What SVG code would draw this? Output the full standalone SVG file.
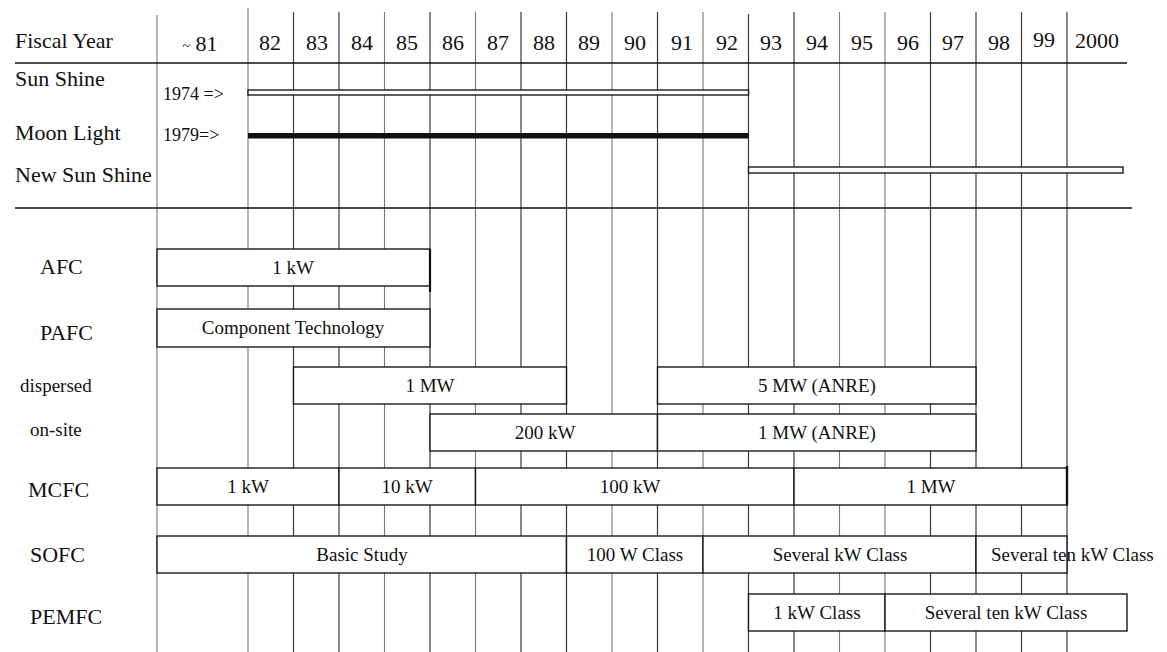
<svg xmlns="http://www.w3.org/2000/svg" width="1167" height="652" viewBox="0 0 1167 652">
<style>
text{font-family:"Liberation Serif","Times New Roman",serif;fill:#111}
.hd{font-size:22px;text-anchor:middle}
.lb{font-size:22px}
.sm{font-size:19px}
.yr{font-size:18px}
.bt{font-size:19px;text-anchor:middle}
.bs{font-size:19px;text-anchor:start}
.g{stroke:#3a3a3a;stroke-width:1.2;fill:none}
.gl{stroke:#777;stroke-width:1.1;fill:none}
.rule{stroke:#111;stroke-width:1.6;fill:none}
.bar{fill:#fff;stroke:#1a1a1a;stroke-width:1.4}
</style>
<rect width="1167" height="652" fill="#fff"/>
<g id="grid">
<line class="gl" x1="157" y1="15" x2="157" y2="652"/>
<line class="gl" x1="248" y1="8" x2="248" y2="652"/>
<line class="g" x1="293.5" y1="12" x2="293.5" y2="652"/>
<line class="g" x1="339" y1="12" x2="339" y2="652"/>
<line class="gl" x1="384.5" y1="12" x2="384.5" y2="652"/>
<line class="g" x1="430" y1="12" x2="430" y2="652"/>
<line class="gl" x1="475.5" y1="12" x2="475.5" y2="652"/>
<line class="g" x1="521" y1="12" x2="521" y2="652"/>
<line class="g" x1="566.5" y1="12" x2="566.5" y2="652"/>
<line class="gl" x1="612" y1="12" x2="612" y2="652"/>
<line class="g" x1="657.5" y1="12" x2="657.5" y2="652"/>
<line class="gl" x1="703" y1="12" x2="703" y2="652"/>
<line class="g" x1="748.5" y1="14" x2="748.5" y2="652"/>
<line class="g" x1="794" y1="12" x2="794" y2="652"/>
<line class="gl" x1="839.5" y1="12" x2="839.5" y2="652"/>
<line class="gl" x1="885" y1="12" x2="885" y2="652"/>
<line class="g" x1="930.5" y1="12" x2="930.5" y2="652"/>
<line class="g" x1="976" y1="12" x2="976" y2="652"/>
<line class="g" x1="1021.5" y1="12" x2="1021.5" y2="652"/>
<line class="g" x1="1067" y1="12" x2="1067" y2="652"/>
<line class="rule" x1="15" y1="63" x2="1127" y2="63"/>
<line class="rule" x1="15" y1="208" x2="1132" y2="208"/>
</g>
<g id="header">
<text class="lb" x="15" y="48">Fiscal Year</text>
<text class="hd" x="200" y="51"><tspan font-size="14">~</tspan> 81</text>
<text class="hd" x="270" y="50">82</text>
<text class="hd" x="317" y="50">83</text>
<text class="hd" x="362" y="50">84</text>
<text class="hd" x="407" y="50">85</text>
<text class="hd" x="453" y="50">86</text>
<text class="hd" x="498" y="50">87</text>
<text class="hd" x="544" y="50">88</text>
<text class="hd" x="589" y="50">89</text>
<text class="hd" x="635" y="50">90</text>
<text class="hd" x="682" y="50">91</text>
<text class="hd" x="727" y="50">92</text>
<text class="hd" x="771" y="50">93</text>
<text class="hd" x="817" y="50">94</text>
<text class="hd" x="862" y="50">95</text>
<text class="hd" x="908" y="50">96</text>
<text class="hd" x="953" y="50">97</text>
<text class="hd" x="999" y="50">98</text>
<text class="hd" x="1044" y="47">99</text>
<text class="hd" x="1097" y="48">2000</text>
</g>
<g id="sunshine">
<text class="lb" x="15" y="86">Sun Shine</text>
<text class="yr" x="163" y="100">1974 =&gt;</text>
<rect class="bar" x="248" y="90" width="500.5" height="5" stroke-width="1.2"/>
</g>
<g id="moonlight">
<text class="lb" x="15" y="140">Moon Light</text>
<text class="yr" x="163" y="141">1979=&gt;</text>
<rect x="248" y="133" width="500.5" height="5.5" fill="#111"/>
</g>
<g id="newsunshine">
<text class="lb" x="15" y="182">New Sun Shine</text>
<rect class="bar" x="748.5" y="167" width="374.5" height="6" stroke-width="1.2"/>
</g>
<g id="afc">
<text class="lb" x="40" y="274">AFC</text>
<rect class="bar" x="157" y="249" width="273" height="37"/>
<line x1="430" y1="249" x2="430" y2="292" stroke="#111" stroke-width="2.2"/>
<text class="bt" x="293" y="274">1 kW</text>
</g>
<g id="pafc">
<text class="lb" x="40" y="340">PAFC</text>
<rect class="bar" x="157" y="309" width="273" height="38"/>
<text class="bt" x="293" y="334">Component Technology</text>
</g>
<g id="dispersed">
<text class="sm" x="20" y="392">dispersed</text>
<rect class="bar" x="293.5" y="367" width="273" height="37"/>
<text class="bt" x="430" y="392">1 MW</text>
<rect class="bar" x="657.5" y="367" width="318.5" height="37"/>
<text class="bt" x="817" y="392">5 MW (ANRE)</text>
</g>
<g id="onsite">
<text class="sm" x="30" y="436">on-site</text>
<rect class="bar" x="430" y="414" width="227.5" height="37"/>
<text class="bt" x="545" y="439">200 kW</text>
<rect class="bar" x="657.5" y="414" width="318.5" height="37"/>
<text class="bt" x="817" y="439">1 MW (ANRE)</text>
</g>
<g id="mcfc">
<text class="lb" x="28" y="497">MCFC</text>
<rect class="bar" x="157" y="468" width="182" height="37"/>
<rect class="bar" x="339" y="468" width="136.5" height="37"/>
<rect class="bar" x="475.5" y="468" width="318.5" height="37"/>
<rect class="bar" x="794" y="468" width="273" height="37"/>
<line x1="1067" y1="466" x2="1067" y2="505" stroke="#111" stroke-width="2.4"/>
<text class="bt" x="248" y="493">1 kW</text>
<text class="bt" x="407" y="493">10 kW</text>
<text class="bt" x="630" y="493">100 kW</text>
<text class="bt" x="931" y="493">1 MW</text>
</g>
<g id="sofc">
<text class="lb" x="30" y="562">SOFC</text>
<rect class="bar" x="157" y="536" width="409.5" height="37"/>
<rect class="bar" x="566.5" y="536" width="136.5" height="37"/>
<rect class="bar" x="703" y="536" width="273" height="37"/>
<rect class="bar" x="976" y="536" width="91" height="37"/>
<text class="bt" x="362" y="561">Basic Study</text>
<text class="bt" x="635" y="561">100 W Class</text>
<text class="bt" x="840" y="561">Several kW Class</text>
<text class="bs" x="991" y="561">Several ten kW Class</text>
</g>
<g id="pemfc">
<text class="lb" x="30" y="624">PEMFC</text>
<rect class="bar" x="748.5" y="594" width="136.5" height="37"/>
<rect class="bar" x="885" y="594" width="242" height="37"/>
<text class="bt" x="817" y="619">1 kW Class</text>
<text class="bt" x="1006" y="619">Several ten kW Class</text>
</g>
</svg>
